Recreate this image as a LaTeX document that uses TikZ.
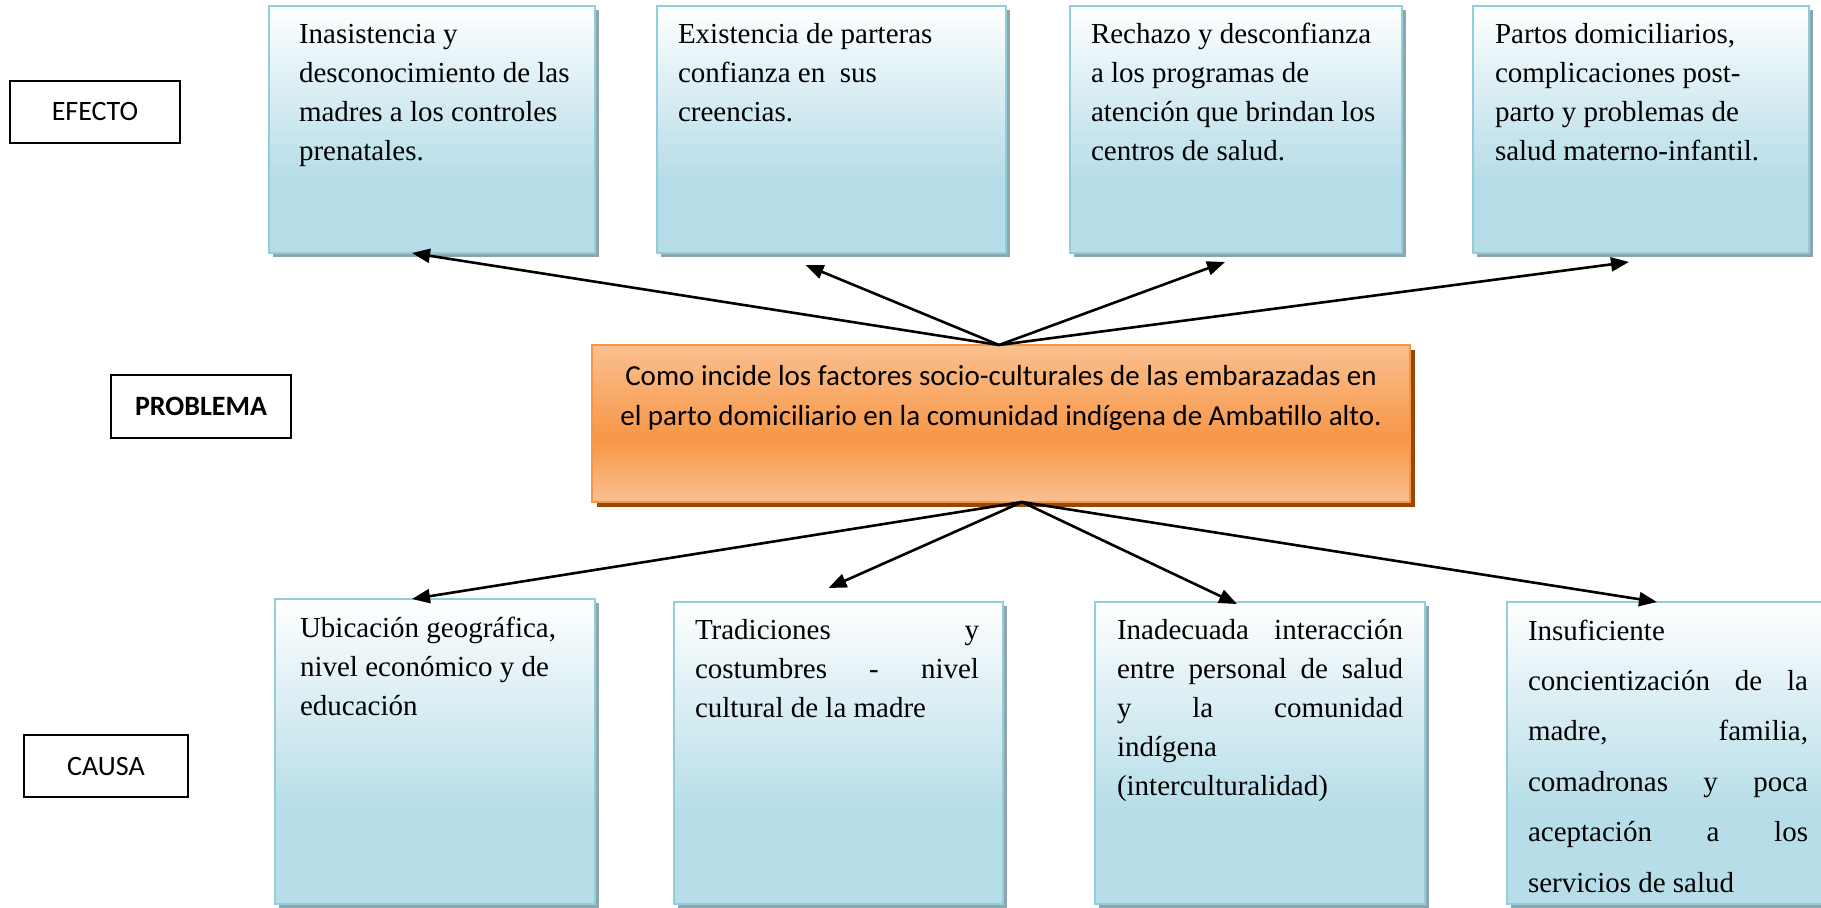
\documentclass[tikz,border=0pt]{standalone}
\usepackage{fontspec}
\setmainfont{Liberation Serif}
\newfontfamily\calibri{Carlito}
\usetikzlibrary{shadows,calc,arrows.meta}
\definecolor{bluebot}{HTML}{B6DDE8}
\definecolor{bluebord}{HTML}{92CDDC}
\definecolor{blueshadow}{HTML}{8FA6AE}
\definecolor{orlight}{HTML}{FAC090}
\definecolor{ormid}{HTML}{F79646}
\definecolor{orshadow}{HTML}{984807}
\pgfdeclareverticalshading{blueshade}{100bp}{color(0bp)=(bluebot); color(25bp)=(bluebot); color(40bp)=(bluebot); color(60bp)=(bluebot!45!white); color(75bp)=(white); color(100bp)=(white)}
\pgfdeclareverticalshading{orshade}{100bp}{color(0bp)=(orlight); color(25bp)=(orlight); color(45bp)=(ormid); color(75bp)=(orlight); color(100bp)=(orlight)}
\hbadness=10000
\hfuzz=50pt
% width height leftpad rightpad toppad baselineskip text
\newcommand{\boxtxt}[7]{\parbox[c][#2][t]{#1}{\fontsize{14.5pt}{#6}\selectfont\leftskip=#3\relax\rightskip=#4\relax\parindent=0pt\vspace*{#5}\leavevmode\vrule height 11pt width 0pt\relax #7\par}}
\tikzset{
  bluebox/.style={draw=bluebord, line width=1.25pt, shading=blueshade, inner sep=0pt, outer sep=0pt, anchor=north west,
    drop shadow={shadow xshift=2pt, shadow yshift=-2pt, fill=blueshadow, opacity=1}},
  orbox/.style={draw=ormid, line width=1.25pt, shading=orshade, inner sep=0pt, outer sep=0pt, anchor=north west,
    drop shadow={shadow xshift=2.5pt, shadow yshift=-2.5pt, fill=orshadow, opacity=1}},
  lab/.style={draw=black, line width=1pt, font=\calibri\fontsize{14pt}{17pt}\selectfont, anchor=north west, inner sep=0pt},
  arr/.style={line width=1.3pt, -{Triangle[length=9pt,width=7pt]}},
}
\begin{document}
\begin{tikzpicture}[x=0.5pt,y=-0.5pt]
\useasboundingbox (0,0) rectangle (1821,907);
% labels
\node[lab, minimum width=85pt, minimum height=31pt] (lefecto) at (9,80) {EFECTO};
\node[lab, minimum width=90pt, minimum height=31.5pt, font=\calibri\bfseries\fontsize{14pt}{17pt}\selectfont] (lproblema) at (110,374) {PROBLEMA};
\node[lab, minimum width=82pt, minimum height=31pt] (lcausa) at (23,734) {CAUSA\hspace{8pt}};
% effects
\node[bluebox] (e1) at (269,6) {\boxtxt{163pt}{123.5pt}{15pt}{0pt}{7.5pt}{19.5pt}{Inasistencia y\newline desconocimiento de las\newline madres a los controles\newline prenatales.}};
\node[bluebox] (e2) at (657,6) {\boxtxt{174.5pt}{123.5pt}{10.5pt}{0pt}{7.5pt}{19.5pt}{Existencia de parteras\newline confianza en\ \ sus\newline creencias.}};
\node[bluebox] (e3) at (1070,6) {\boxtxt{166pt}{123.5pt}{10.5pt}{0pt}{7.5pt}{19.5pt}{Rechazo y desconfianza\newline a los programas de\newline atención que brindan los\newline centros de salud.}};
\node[bluebox] (e4) at (1473,6) {\boxtxt{168pt}{123.5pt}{11pt}{0pt}{7.5pt}{19.5pt}{Partos domiciliarios,\newline complicaciones post-\newline parto y problemas de\newline salud materno-infantil.}};
% problem
\node[orbox] (prob) at (592,345) {\parbox[c][78.5pt][t]{409pt}{\calibri\fontsize{14.5pt}{20pt}\selectfont\centering\vspace*{9pt}\leavevmode\vrule height 11pt width 0pt\relax Como incide los factores socio-culturales de las embarazadas en\\ el parto domiciliario en la comunidad indígena de Ambatillo alto.\par}};
% causes
\node[bluebox] (b1) at (275,599) {\boxtxt{160pt}{152.5pt}{12.5pt}{0pt}{8pt}{19.5pt}{Ubicación geográfica,\newline nivel económico y de\newline educación}};
\node[bluebox] (b2) at (674,602) {\boxtxt{164.5pt}{151pt}{10.5pt}{12pt}{7.5pt}{19.5pt}{Tradiciones y\linebreak costumbres - nivel\linebreak cultural de la madre}};
\node[bluebox] (b3) at (1095,602) {\boxtxt{165pt}{151pt}{11pt}{11pt}{7.5pt}{19.5pt}{Inadecuada interacción\linebreak entre personal de salud\linebreak y la comunidad\linebreak indígena\newline (interculturalidad)}};
\node[bluebox] (b4) at (1507,602) {\boxtxt{161pt}{151pt}{10.5pt}{10.5pt}{8pt}{25.2pt}{Insuficiente\newline concientización de la\linebreak madre, familia,\linebreak comadronas y poca\linebreak aceptación a los\linebreak servicios de salud}};
% connector ends
\coordinate (ptop) at ($(prob.north)+(-2,0)$);
\coordinate (pbot) at ($(prob.south)+(21,0)$);
\coordinate (te1) at ($(e1.south)+(-20,0)$);
\coordinate (te2) at ($(e2.south)+(-26,12)$);
\coordinate (te3) at ($(e3.south)+(-11,9)$);
\coordinate (te4) at ($(e4.south)+(-12,9)$);
\coordinate (tb1) at ($(b1.north)+(-23,0)$);
\coordinate (tb2) at ($(b2.north)+(-10,-14)$);
\coordinate (tb3) at ($(b3.north)+(-23,2)$);
\coordinate (tb4) at ($(b4.north)+(-11,0)$);
\draw[arr] (ptop) -- (te1);
\draw[arr] (ptop) -- (te2);
\draw[arr] (ptop) -- (te3);
\draw[arr] (ptop) -- (te4);
\draw[arr] (pbot) -- (tb1);
\draw[arr] (pbot) -- (tb2);
\draw[arr] (pbot) -- (tb3);
\draw[arr] (pbot) -- (tb4);
\end{tikzpicture}
\end{document}
